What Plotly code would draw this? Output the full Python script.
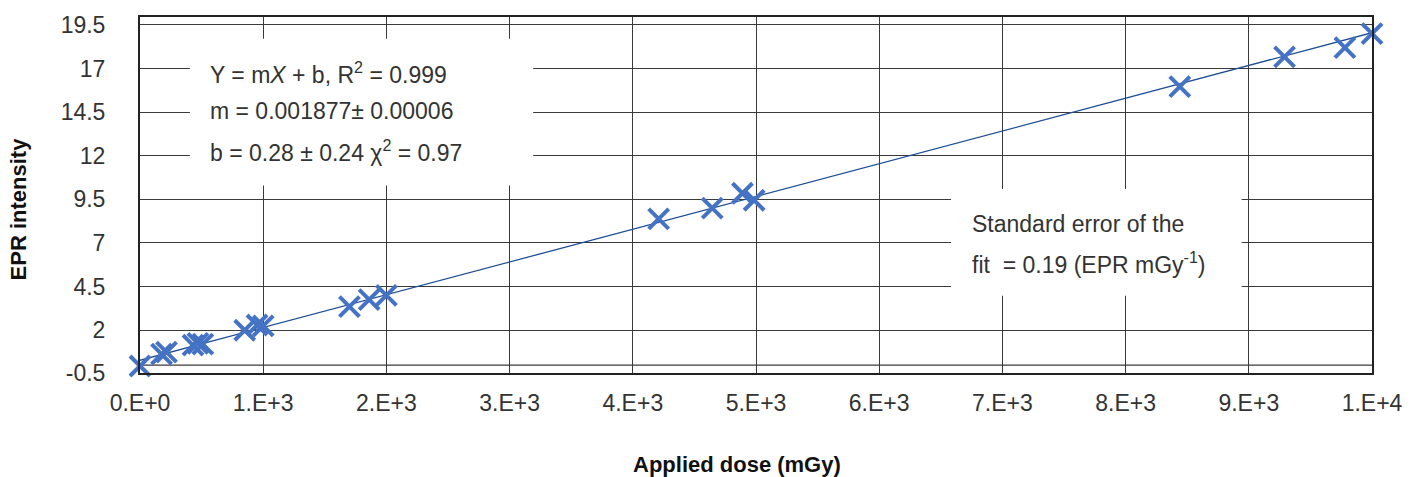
import plotly.graph_objects as go

# Data
dose = [0, 175, 215, 430, 470, 510, 850, 950, 1000, 1700, 1860, 2000,
        4210, 4645, 4890, 4985, 8440, 9290, 9780, 10000]
epr = [-0.05, 0.63, 0.75, 1.15, 1.25, 1.2, 2.0, 2.3, 2.25, 3.35, 3.75, 4.0,
       8.38, 9.0, 9.85, 9.45, 15.96, 17.66, 18.2, 19.0]

slope = 0.001877
intercept = 0.28
fit_x = [0, 10000]
fit_y = [intercept + slope * v for v in fit_x]

x_tickvals = [0, 1000, 2000, 3000, 4000, 5000, 6000, 7000, 8000, 9000, 10000]
x_ticktext = ["0.E+0", "1.E+3", "2.E+3", "3.E+3", "4.E+3", "5.E+3",
              "6.E+3", "7.E+3", "8.E+3", "9.E+3", "1.E+4"]
y_tickvals = [-0.45, 2, 4.5, 7, 9.5, 12, 14.5, 17, 19.5]
y_ticktext = ["-0.5", "2", "4.5", "7", "9.5", "12", "14.5", "17", "19.5"]

FONT = "Liberation Sans, Arial, sans-serif"
TXT = "#333333"
GRID = "#3a3a3a"

fig = go.Figure()
fig.add_trace(go.Scatter(x=fit_x, y=fit_y, mode="lines",
                         line=dict(color="#1f4e96", width=1.3),
                         hoverinfo="skip", showlegend=False))
fig.add_trace(go.Scatter(x=dose, y=epr, mode="markers", cliponaxis=False,
                         marker=dict(symbol="x-thin", size=20,
                                     line=dict(color="#4472c4", width=4)),
                         showlegend=False))

# extra horizontal gridline near zero
fig.add_shape(type="line", x0=0, x1=10000, y0=0, y1=0, xref="x", yref="y",
              line=dict(color=GRID, width=1.3), layer="below")
# white annotation boxes covering grid
fig.add_shape(type="rect", x0=405, x1=3191, y0=10.3, y1=18.7, xref="x", yref="y",
              fillcolor="white", line=dict(width=0), layer="between")
fig.add_shape(type="rect", x0=6583, x1=8942, y0=3.97, y1=10.09, xref="x", yref="y",
              fillcolor="white", line=dict(width=0), layer="between")

left_lines = ["Y = m<i>X</i> + b, R<sup>2</sup> = 0.999",
              "m = 0.001877± 0.00006",
              "b = 0.28 ± 0.24 χ<sup>2</sup> = 0.97"]
left_y = [70, 108, 148]
for t, yp in zip(left_lines, left_y):
    fig.add_annotation(text=t, xref="paper", yref="paper",
                       x=(208 - 140) / 1238, y=(373 - yp) / 360,
                       xanchor="left", yanchor="middle", showarrow=False,
                       font=dict(family=FONT, size=23, color=TXT))

right_lines = ["Standard error of the", "fit  = 0.19 (EPR mGy<sup>-1</sup>)"]
right_y = [222, 262]
for t, yp in zip(right_lines, right_y):
    fig.add_annotation(text=t, xref="paper", yref="paper",
                       x=(974 - 140) / 1238, y=(373 - yp) / 360,
                       xanchor="left", yanchor="middle", showarrow=False,
                       font=dict(family=FONT, size=23, color=TXT))

# axis titles
fig.add_annotation(text="<b>EPR intensity</b>", xref="paper", yref="paper",
                   x=(18 - 140) / 1238, y=(373 - 207) / 360, textangle=-90,
                   xanchor="center", yanchor="middle", showarrow=False,
                   font=dict(family=FONT, size=22, color="#111111"))
fig.add_annotation(text="<b>Applied dose (mGy)</b>", xref="paper", yref="paper",
                   x=(740 - 140) / 1238, y=(373 - 466) / 360,
                   xanchor="center", yanchor="middle", showarrow=False,
                   font=dict(family=FONT, size=22, color="#111111"))

fig.update_layout(
    width=1415, height=477,
    margin=dict(l=140, r=37, t=13, b=104),
    plot_bgcolor="white", paper_bgcolor="white",
    font=dict(family=FONT, size=23, color=TXT),
    xaxis=dict(range=[0, 10000], tickvals=x_tickvals, ticktext=x_ticktext,
               showgrid=True, gridcolor=GRID, gridwidth=1.3,
               showline=True, linecolor="#222222", linewidth=2, mirror=True,
               ticks="", ticklabelstandoff=8, zeroline=False,
               tickfont=dict(family=FONT, size=23, color=TXT)),
    yaxis=dict(range=[-0.45, 19.95], tickvals=y_tickvals, ticktext=y_ticktext,
               showgrid=True, gridcolor=GRID, gridwidth=1.3,
               showline=True, linecolor="#222222", linewidth=2, mirror=True,
               ticks="", ticklabelstandoff=28, zeroline=False,
               tickfont=dict(family=FONT, size=23, color=TXT)),
)

fig.write_html("out.html")
